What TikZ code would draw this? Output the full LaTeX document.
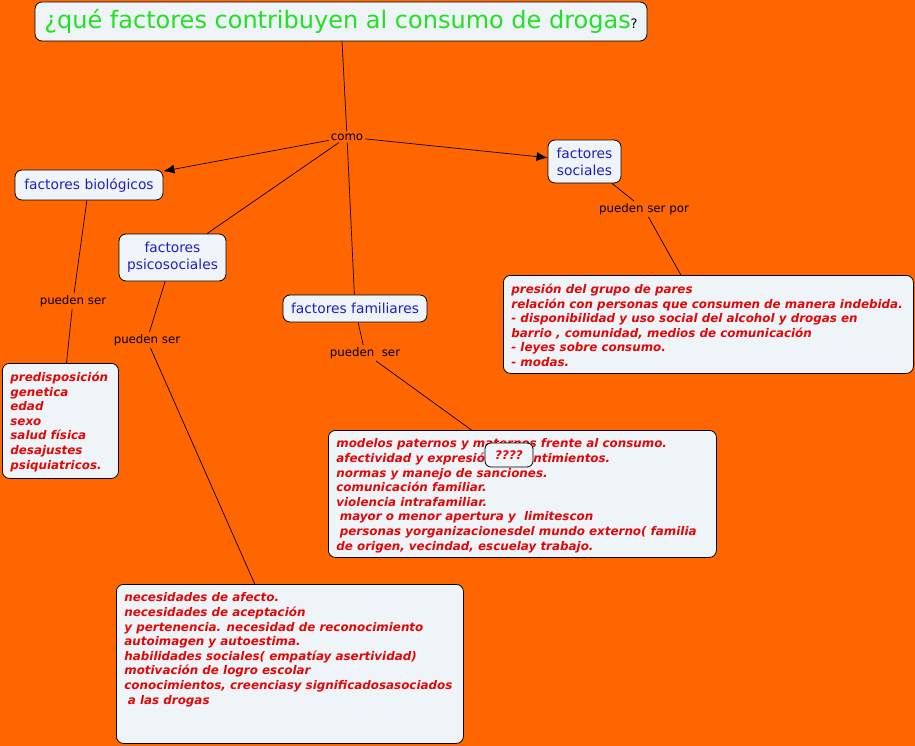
\documentclass[tikz,border=0pt]{standalone}
\usepackage{fontspec}
\setmainfont{DejaVu Sans}
\usetikzlibrary{arrows.meta}
\definecolor{cm_orange}{RGB}{255,102,0}
\definecolor{cm_fill}{RGB}{238,244,247}
\definecolor{cm_blue}{RGB}{32,32,192}
\definecolor{cm_red}{RGB}{226,8,8}
\definecolor{cm_green}{RGB}{34,224,34}
\tikzstyle{question}=[rounded corners=7pt,fill=cm_fill,draw=black,
  line width=0.8pt,text=cm_green,inner sep=2pt,font=\fontsize{24}{28}\selectfont]
\tikzstyle{concept}=[rounded corners=7pt,fill=cm_fill,draw=black,
  line width=0.8pt,text=cm_blue,align=center,inner sep=2pt,font=\fontsize{13.8}{17}\selectfont]
\tikzstyle{linking}=[inner sep=2pt,font=\fontsize{11.8}{14}\selectfont]
\tikzstyle{detail}=[rounded corners=7pt,fill=cm_fill,draw=black,anchor=north west,
  line width=0.8pt,text=cm_red,inner xsep=8pt,inner ysep=8.5pt,
  font=\fontsize{11.9}{14.6}\selectfont\bfseries\itshape]
\tikzstyle{qmark}=[rounded corners=6pt,fill=cm_fill,draw=black,
  line width=0.8pt,text=cm_red,minimum width=48pt,minimum height=24pt,
  font=\fontsize{11.9}{14.6}\selectfont\bfseries\itshape]
\tikzstyle{link}=[line width=0.7pt]
\tikzstyle{linkarrow}=[line width=0.7pt,-{Latex[length=11pt,width=9pt]}]

\begin{document}
\begin{tikzpicture}[x=1pt,y=-1pt]
        \fill [cm_orange] (0,0) rectangle (915,746);
        \useasboundingbox (0,0) rectangle (915,746);
        \node [style=question,minimum width=612pt,minimum height=39pt] (q) at (341,21.5)
          {¿qué factores contribuyen al consumo de drogas{\color{black}\fontsize{13}{15}\selectfont ?}};
        \node [style=linking] (como) at (347,137) {como};
        \node [style=concept,minimum width=148pt,minimum height=30pt] (bio) at (89,185) {factores biológicos};
        \node [style=concept,minimum width=107pt,minimum height=47pt] (psico) at (172.5,257.5) {factores\\psicosociales};
        \node [style=concept,minimum width=73pt,minimum height=43pt] (soc) at (584.5,161.5) {factores\\sociales};
        \node [style=concept,minimum width=144pt,minimum height=27pt] (fam) at (355,308.5) {factores familiares};
        \node [style=linking] (bioL) at (73,301) {pueden ser};
        \node [style=linking] (psicoL) at (147,340) {pueden ser};
        \node [style=linking] (famL) at (365,353) {pueden\ \ ser};
        \node [style=linking] (socL) at (644,209) {pueden ser por};
        \node [style=detail] (bioR) at (2,363) {\parbox[t][98pt][t]{100pt}{%
          predisposición\\genetica\\edad\\sexo\\salud física\\desajustes\\psiquiatricos.}};
        \node [style=detail] (socR) at (503,275) {\parbox[t][81pt][t]{394pt}{%
          presión del grupo de pares\\
          relación con personas que consumen de manera indebida.\\
          - disponibilidad y uso social del alcohol y drogas en\\
          barrio , comunidad, medios de comunicación\\
          - leyes sobre consumo.\\
          - modas.}};
        \node [style=detail] (famR) at (328,430) {\parbox[t][110pt][t]{372pt}{%
          modelos paternos y maternos frente al consumo.\\
          afectividad y expresión de sentimientos.\\
          normas y manejo de sanciones.\\
          comunicación familiar.\\
          violencia intrafamiliar.\\
          \hspace*{3.5pt}mayor o menor apertura y\ \ limitescon\\
          \hspace*{3.5pt}personas yorganizacionesdel mundo externo( familia\\
          de origen, vecindad, escuelay trabajo.}};
        \node [style=detail] (psicoR) at (116,584) {\parbox[t][142pt][t]{331pt}{%
          necesidades de afecto.\\
          necesidades de aceptación\\
          y pertenencia. necesidad de reconocimiento\\
          autoimagen y autoestima.\\
          habilidades sociales( empatíay asertividad)\\
          motivación de logro escolar\\
          conocimientos, creenciasy significadosasociados\\
          \hspace*{3.5pt}a las drogas}};
        \node [style=qmark] (unk) at (509,455) {????};
        \draw [style=link] (q) to (como);
        \draw [style=linkarrow] (como) to (bio);
        \draw [style=linkarrow] (como) to (soc);
        \draw [style=link] (como) to (psico);
        \draw [style=link] (como) to (fam);
        \draw [style=link] (bio) to (bioL);
        \draw [style=link] (bioL) to (bioR);
        \draw [style=link] (psico) to (psicoL);
        \draw [style=link] (psicoL) to (psicoR);
        \draw [style=link] (fam) to (famL);
        \draw [style=link] (famL) to ([xshift=-51pt]famR.north);
        \draw [style=link] (soc) to (socL);
        \draw [style=link] (socL) to (socR);
    \end{tikzpicture}
\end{document}
